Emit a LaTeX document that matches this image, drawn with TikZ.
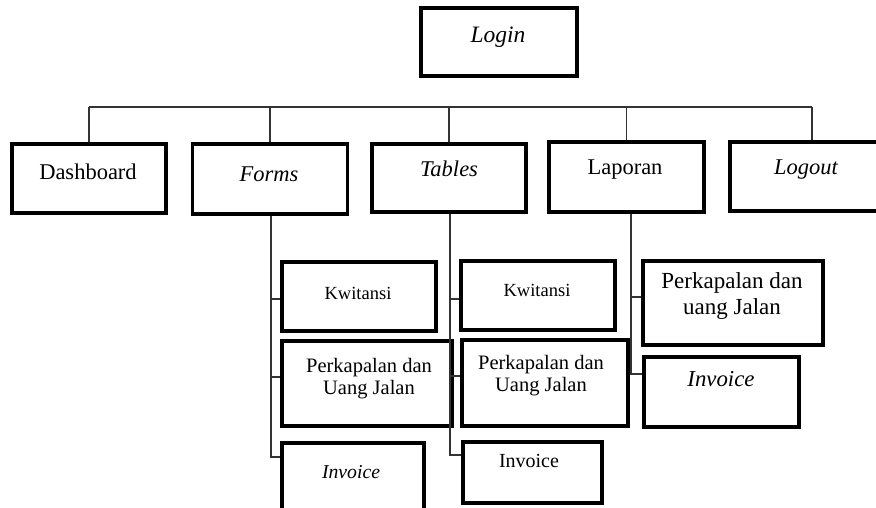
\documentclass[tikz,border=0pt]{standalone}
\usepackage{fontspec}
\setmainfont{Liberation Serif}
\begin{document}
\begin{tikzpicture}[x=1pt,y=-1pt,
  box/.style={draw=black,line width=3.4pt,inner sep=0pt},
  conn/.style={draw=black!80,line width=1.2pt},
  big/.style={font=\fontsize{22.5}{26}\selectfont,inner sep=0pt},
  bigit/.style={font=\fontsize{22.5}{26}\itshape\selectfont,inner sep=0pt},
]
\useasboundingbox (0,0) rectangle (876,508);
\begin{scope}
\clip (0,0) rectangle (876,508);
% boxes
\node[box,minimum width=156pt,minimum height=68pt] (login) at (499,42) {};
\node[box,minimum width=154pt,minimum height=69pt] (dash) at (89,178.5) {};
\node[box,minimum width=155pt,minimum height=70pt] (forms) at (270,179) {};
\node[box,minimum width=154pt,minimum height=68pt] (tables) at (449,178) {};
\node[box,minimum width=155pt,minimum height=70pt] (laporan) at (626.5,177) {};
\node[box,minimum width=164pt,minimum height=69pt] (logout) at (812,176.5) {};
\node[box,minimum width=154pt,minimum height=69pt] (kw1) at (359,296.5) {};
\node[box,minimum width=170pt,minimum height=85pt] (per1) at (367,383.5) {};
\node[box,minimum width=142pt,minimum height=77pt] (inv1) at (353,481.5) {};
\node[box,minimum width=154pt,minimum height=69pt] (kw2) at (538,295.5) {};
\node[box,minimum width=166pt,minimum height=86pt] (per2) at (545,383) {};
\node[box,minimum width=139pt,minimum height=61pt] (inv2) at (532.5,472.5) {};
\node[box,minimum width=180pt,minimum height=84pt] (per3) at (733,303) {};
\node[box,minimum width=155pt,minimum height=70pt] (inv3) at (721.5,392) {};
\end{scope}
% texts
\node[font=\fontsize{23.5}{27}\itshape\selectfont,inner sep=0pt] (tlogin) at (498,37) {Login};
\node[big] (tdash) at (88,172) {Dashboard};
\node[bigit] (tforms) at (269,174) {Forms};
\node[bigit] (ttables) at (449,169) {Tables};
\node[big] (tlaporan) at (625,170) {Laporan};
\node[bigit] (tlogout) at (806,170) {Logout};
\node[font=\fontsize{18.5}{22}\selectfont,inner sep=0pt] (tkw1) at (358,293) {Kwitansi};
\node[font=\fontsize{18.5}{22}\selectfont,inner sep=0pt] (tkw2) at (537,290) {Kwitansi};
\node[font=\fontsize{20.5}{22}\selectfont,inner sep=0pt,align=center] (tper1) at (369,379) {Perkapalan dan\\Uang Jalan};
\node[font=\fontsize{20.5}{22}\selectfont,inner sep=0pt,align=center] (tper2) at (541,376) {Perkapalan dan\\Uang Jalan};
\node[font=\fontsize{23}{26}\selectfont,inner sep=0pt,align=center] (tper3) at (732,296) {Perkapalan dan\\uang Jalan};
\node[font=\fontsize{19.7}{22}\itshape\selectfont,inner sep=0pt] (tinv1) at (351,472) {Invoice};
\node[font=\fontsize{20}{22}\selectfont,inner sep=0pt] (tinv2) at (529,461) {Invoice};
\node[font=\fontsize{22.8}{26}\itshape\selectfont,inner sep=0pt] (tinv3) at (721,379) {Invoice};
% top bar
\coordinate (bL) at (89,107);
\coordinate (bR) at (812,107);
\draw[conn] (bL) -- (bR);
\draw[conn] (bL) -- (dash.north);
\draw[conn] (forms.north |- bL) -- (forms.north);
\draw[conn] (tables.north |- bL) -- (tables.north);
\draw[conn] (laporan.north |- bL) -- (laporan.north);
\draw[conn] (bR) -- (logout.north);
% Forms branch
\coordinate (fB) at (271,457);
\coordinate (f1) at (271,299);
\coordinate (f2) at (271,377);
\draw[conn] (fB |- forms.south) -- (fB) -- (fB -| inv1.west);
\draw[conn] (f1) -- (f1 -| kw1.west);
\draw[conn] (f2) -- (f2 -| per1.west);
% Tables branch
\coordinate (tB) at (450,455);
\coordinate (t1) at (450,299);
\coordinate (t2) at (450,376);
\draw[conn] (tB |- tables.south) -- (tB) -- (tB -| inv2.west);
\draw[conn] (t1) -- (t1 -| kw2.west);
\draw[conn] (t2) -- (t2 -| per2.west);
% Laporan branch
\coordinate (lB) at (631,374);
\coordinate (l1) at (631,297);
\draw[conn] (lB |- laporan.south) -- (lB) -- (lB -| inv3.west);
\draw[conn] (l1) -- (l1 -| per3.west);
\end{tikzpicture}
\end{document}
